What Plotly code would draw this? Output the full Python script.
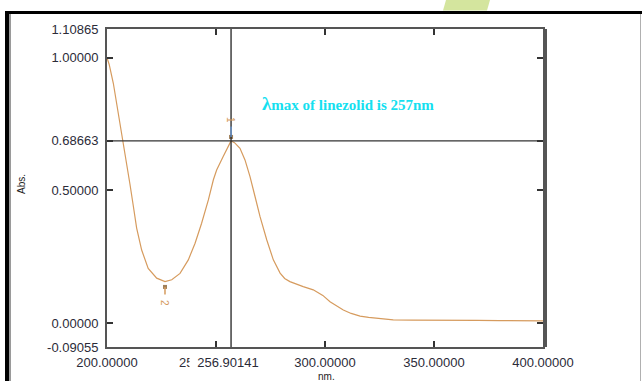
import plotly.graph_objects as go

# ---- data ----
wavelength_nm = [200.0, 201.0, 202.9, 204.4, 206.3, 207.2, 209.0, 210.5, 212.0, 213.6,
                 215.9, 218.9, 222.8, 226.6, 229.7, 233.5, 237.3, 240.4, 243.4, 246.5,
                 248.8, 250.3, 253.3, 255.6, 256.9, 258.5, 261.0, 263.3, 265.6, 267.9,
                 270.2, 273.3, 276.3, 279.4, 281.5, 283.9, 287.0, 290.0, 294.6, 296.2,
                 299.0, 302.3, 306.1, 308.4, 312.0, 316.1, 320.0, 323.7, 331.3, 340.0,
                 350.0, 355.0, 360.0, 365.0, 370.0, 380.0, 390.0, 400.0]
absorbance = [1.000, 0.975, 0.904, 0.830, 0.745, 0.700, 0.605, 0.525, 0.445, 0.358,
              0.275, 0.206, 0.169, 0.156, 0.163, 0.187, 0.238, 0.301, 0.376, 0.464,
              0.540, 0.577, 0.628, 0.668, 0.6866, 0.680, 0.659, 0.615, 0.552, 0.477,
              0.401, 0.313, 0.238, 0.188, 0.168, 0.156, 0.145, 0.137, 0.125, 0.118,
              0.104, 0.080, 0.062, 0.049, 0.036, 0.026, 0.021, 0.018, 0.012, 0.011,
              0.011, 0.012, 0.010, 0.011, 0.010, 0.009, 0.009, 0.008]

peak_nm, peak_abs = 256.90141, 0.68663
valley_nm, valley_abs = 226.6, 0.156

x_range = [200.0, 400.0]
y_range = [-0.09055, 1.10865]
x_tickvals = [200, 250, 300, 350, 400]
x_ticktext = ["200.00000", "", "300.00000", "350.00000", "400.00000"]
y_tickvals = [-0.09055, 0.0, 0.5, 0.68663, 1.0, 1.10865]
y_ticktext = ["-0.09055", "0.00000", "0.50000", "0.68663", "1.00000", "1.10865"]

W, H = 642, 381
L, R, T, B = 107, 543, 29, 347

def px(x):
    return (x - L) / (R - L)

def py(y):
    return (B - y) / (B - T)

curve_color = "#D69B5E"
fig = go.Figure()
fig.add_trace(go.Scatter(x=wavelength_nm, y=absorbance, mode="lines",
                         line=dict(color=curve_color, width=1.2), hoverinfo="skip"))
fig.add_trace(go.Scatter(x=[peak_nm, valley_nm], y=[peak_abs + 0.015, valley_abs - 0.02],
                         mode="markers",
                         marker=dict(symbol="square", size=4, color="#A0805A"),
                         hoverinfo="skip"))

font_tick = dict(family="Liberation Sans, Arial, sans-serif", size=13, color="#2b2b38")

fig.update_layout(
    width=W, height=H,
    margin=dict(l=L, r=W - R, t=T, b=H - B, pad=0),
    paper_bgcolor="white", plot_bgcolor="white",
    showlegend=False,
    xaxis=dict(range=x_range, tickvals=x_tickvals, ticktext=x_ticktext,
               ticks="inside", ticklen=6, tickcolor="#333", tickwidth=1.5,
               showline=True, linecolor="#555", linewidth=2, mirror="ticks",
               showgrid=False, zeroline=False, tickfont=font_tick, ticklabelstandoff=2),
    yaxis=dict(range=y_range, tickvals=y_tickvals, ticktext=y_ticktext,
               ticks="inside", ticklen=6, tickcolor="#333", tickwidth=1.5,
               showline=True, linecolor="#555", linewidth=2, mirror="ticks",
               showgrid=False, zeroline=False, tickfont=font_tick, ticklabelstandoff=4),
)

shapes = []
# green blob at top (behind the frame line)
shapes.append(dict(type="path", xref="paper", yref="paper", layer="below",
                   path=f"M {px(443)} {py(10.5)} L {px(446)} {py(0)} L {px(490)} {py(0)} L {px(487)} {py(10.5)} Z",
                   fillcolor="#d4e59e", line=dict(width=0)))
# crosshair
shapes.append(dict(type="line", xref="x", yref="paper", x0=peak_nm, x1=peak_nm, y0=0, y1=1,
                   line=dict(color="#222", width=1.3)))
shapes.append(dict(type="line", xref="paper", yref="y", x0=0, x1=1, y0=peak_abs, y1=peak_abs,
                   line=dict(color="#333", width=1.3)))
# right double frame line
shapes.append(dict(type="line", xref="paper", yref="paper", x0=px(546), x1=px(546), y0=py(29), y1=py(347),
                   line=dict(color="#555", width=2)))
# outer page frame
shapes.append(dict(type="line", xref="paper", yref="paper", x0=px(5), x1=px(642), y0=py(12.5), y1=py(12.5),
                   line=dict(color="black", width=3)))
shapes.append(dict(type="line", xref="paper", yref="paper", x0=px(7), x1=px(7), y0=py(11), y1=py(381),
                   line=dict(color="black", width=4)))
shapes.append(dict(type="line", xref="paper", yref="paper", x0=px(10), x1=px(10), y0=py(14), y1=py(381),
                   line=dict(color="#9a9a9a", width=2)))
shapes.append(dict(type="line", xref="paper", yref="paper", x0=px(640.5), x1=px(640.5), y0=py(14), y1=py(381),
                   line=dict(color="#b0b0b0", width=1)))
fig.update_layout(shapes=shapes)

ann = []
# peak label
ann.append(dict(x=peak_nm, y=peak_abs + 0.015, xref="x", yref="y", ax=0, ay=-12, axref="pixel", ayref="pixel",
                showarrow=True, arrowhead=0, arrowcolor="#6a9ee0", arrowwidth=1.2, text=""))
ann.append(dict(x=peak_nm, y=py(120), xref="x", yref="paper", yanchor="middle", text="1",
                showarrow=False, textangle=90,
                font=dict(family="Liberation Sans, Arial", size=10, color=curve_color)))
# valley label
ann.append(dict(x=valley_nm, y=valley_abs - 0.02, xref="x", yref="y", ax=0, ay=9, axref="pixel", ayref="pixel",
                showarrow=True, arrowhead=0, arrowcolor=curve_color, arrowwidth=1.5, text=""))
ann.append(dict(x=valley_nm, y=py(303), xref="x", yref="paper", yanchor="middle", text="2",
                showarrow=False, textangle=90,
                font=dict(family="Liberation Sans, Arial", size=10, color=curve_color)))
# 250 tick label, partly hidden by the cursor value label
ann.append(dict(x=250, y=py(362), xref="x", yref="paper", text="250.00000", showarrow=False,
                xanchor="center", yanchor="middle", xshift=-7, font=font_tick))
ann.append(dict(x=peak_nm, y=py(362), xref="x", yref="paper", text="&nbsp;&nbsp;256.90141", showarrow=False,
                bgcolor="white", borderpad=0, xanchor="left", yanchor="middle", xshift=-42,
                font=font_tick))
# axis titles
ann.append(dict(x=px(21), y=py(184), xref="paper", yref="paper", xanchor="center", yanchor="middle",
                text="Abs.", showarrow=False, textangle=-90,
                font=dict(family="Liberation Sans, Arial", size=10, color="#222")))
ann.append(dict(x=px(326), y=py(376), xref="paper", yref="paper", xanchor="center", yanchor="middle",
                text="nm.", showarrow=False,
                font=dict(family="Liberation Sans, Arial", size=10, color="#222")))
# lambda max text
ann.append(dict(x=px(260), y=py(104), xref="paper", yref="paper", xanchor="left", yanchor="middle",
                text="<b><span style='font-size:19px'>λ</span>max of linezolid is 257nm</b>",
                showarrow=False,
                font=dict(family="Liberation Serif, Times New Roman, serif", size=15, color="#14E0F0")))
fig.update_layout(annotations=ann)

fig.write_html("out.html")
